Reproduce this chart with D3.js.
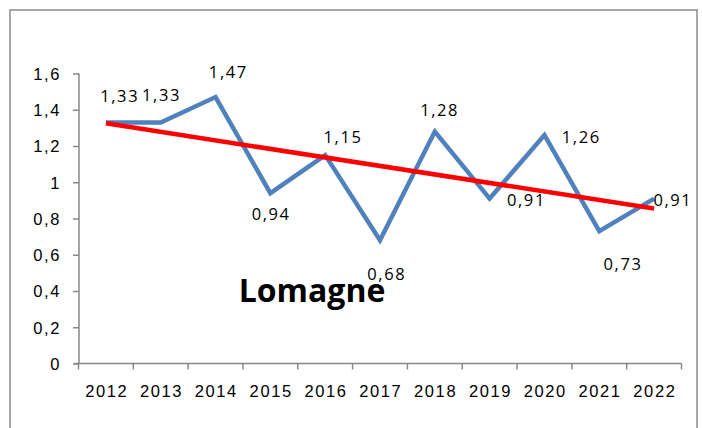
<!DOCTYPE html>
<meta charset="utf-8">
<style>
  body { margin: 0; background: #fff; }
  svg { display: block; font-family: 'Open Sans', sans-serif; }
  .tick text { font-size: 16.5px; letter-spacing: 1.6px; fill: #000; }
  .lbl { font-size: 16.5px; letter-spacing: 1.6px; fill: #000; text-anchor: middle; }
</style>
<body>
<script src="https://d3js.org/d3.v7.min.js"></script>
<script>
// data
var years = ["2012", "2013", "2014", "2015", "2016", "2017", "2018", "2019", "2020", "2021", "2022"];
var values = [1.33, 1.33, 1.47, 0.94, 1.15, 0.68, 1.28, 0.91, 1.26, 0.73, 0.91];
var trendEnds = [1.325, 0.855];   // trend line value at 2012 and 2022
var yTicks = [0, 0.2, 0.4, 0.6, 0.8, 1, 1.2, 1.4, 1.6];
var title = "Lomagne";

// label placement (pixels from the point), as the labels were moved by hand
var labelOffsets = [[13, -20], [0, -21], [12, -19], [0, 27], [17, -12], [6, 40],
                    [4, -16], [36, 7], [36, 8], [23, 39], [18, 7]];

var width = 702, height = 428;
var svg = d3.select("body").append("svg")
  .attr("width", width)
  .attr("height", height);

// chart frame
svg.append("rect")
  .attr("x", 10).attr("y", 10)
  .attr("width", 687).attr("height", 430)
  .attr("fill", "none")
  .attr("stroke", "#8c8c8c")
  .attr("stroke-width", 1.5);

var x = d3.scaleBand().domain(years).range([78.5, 681.5]);
var y = d3.scaleLinear().domain([0, 1.6]).range([363.5, 73.5]);
var cx = function (d) { return x(d) + x.bandwidth() / 2; };
var fmt = function (v) { return String(v).replace(".", ","); };

// y axis
var yAxis = svg.append("g")
  .attr("transform", "translate(79,0)")
  .call(d3.axisLeft(y).tickValues(yTicks).tickSize(6).tickPadding(12).tickFormat(fmt));
yAxis.select(".domain").attr("d", "M0," + y(1.6) + "V" + y(0));
yAxis.selectAll("line, .domain").attr("stroke", "#888").attr("stroke-width", 1.5);
yAxis.selectAll("text").attr("dy", "0.36em");

// x axis: ticks sit between the categories, labels in the middle
var xAxis = svg.append("g")
  .attr("transform", "translate(0," + y(0) + ")")
  .call(d3.axisBottom(x).tickSize(0).tickPadding(22));
xAxis.select(".domain").remove();
xAxis.selectAll(".tick text").attr("dx", "0.8px");
xAxis.append("path")
  .attr("d", "M" + (x.range()[0] - 4) + ",0H" + x.range()[1])
  .attr("stroke", "#888").attr("stroke-width", 1.5).attr("fill", "none");
xAxis.selectAll(".sep")
  .data(years.concat(["end"]))
  .join("line")
  .attr("class", "sep")
  .attr("x1", function (d, i) { return x.range()[0] + i * x.bandwidth(); })
  .attr("x2", function (d, i) { return x.range()[0] + i * x.bandwidth(); })
  .attr("y1", 0).attr("y2", 6)
  .attr("stroke", "#888").attr("stroke-width", 1.5);

var pts = years.map(function (d, i) { return { year: d, v: values[i] }; });

// series line
var line = d3.line()
  .x(function (d) { return cx(d.year); })
  .y(function (d) { return y(d.v); });

svg.append("path")
  .datum(pts)
  .attr("d", line)
  .attr("fill", "none")
  .attr("stroke", "#4f81bd")
  .attr("stroke-width", 4.5)
  .attr("stroke-linejoin", "miter");

// linear trend
svg.append("path")
  .datum([{ year: years[0], v: trendEnds[0] }, { year: years[years.length - 1], v: trendEnds[1] }])
  .attr("d", line)
  .attr("fill", "none")
  .attr("stroke", "#ff0000")
  .attr("stroke-width", 4.5);

// title inside plot
svg.append("text")
  .attr("x", 312).attr("y", 302)
  .attr("text-anchor", "middle")
  .style("font-size", "32px")
  .style("font-weight", "bold")
  .text(title);

// data labels
svg.selectAll(".lbl")
  .data(pts)
  .join("text")
  .attr("class", "lbl")
  .attr("x", function (d, i) { return cx(d.year) + labelOffsets[i][0] + 0.8; })
  .attr("y", function (d, i) { return y(d.v) + labelOffsets[i][1]; })
  .text(function (d) { return fmt(d.v); });
</script>
</body>
